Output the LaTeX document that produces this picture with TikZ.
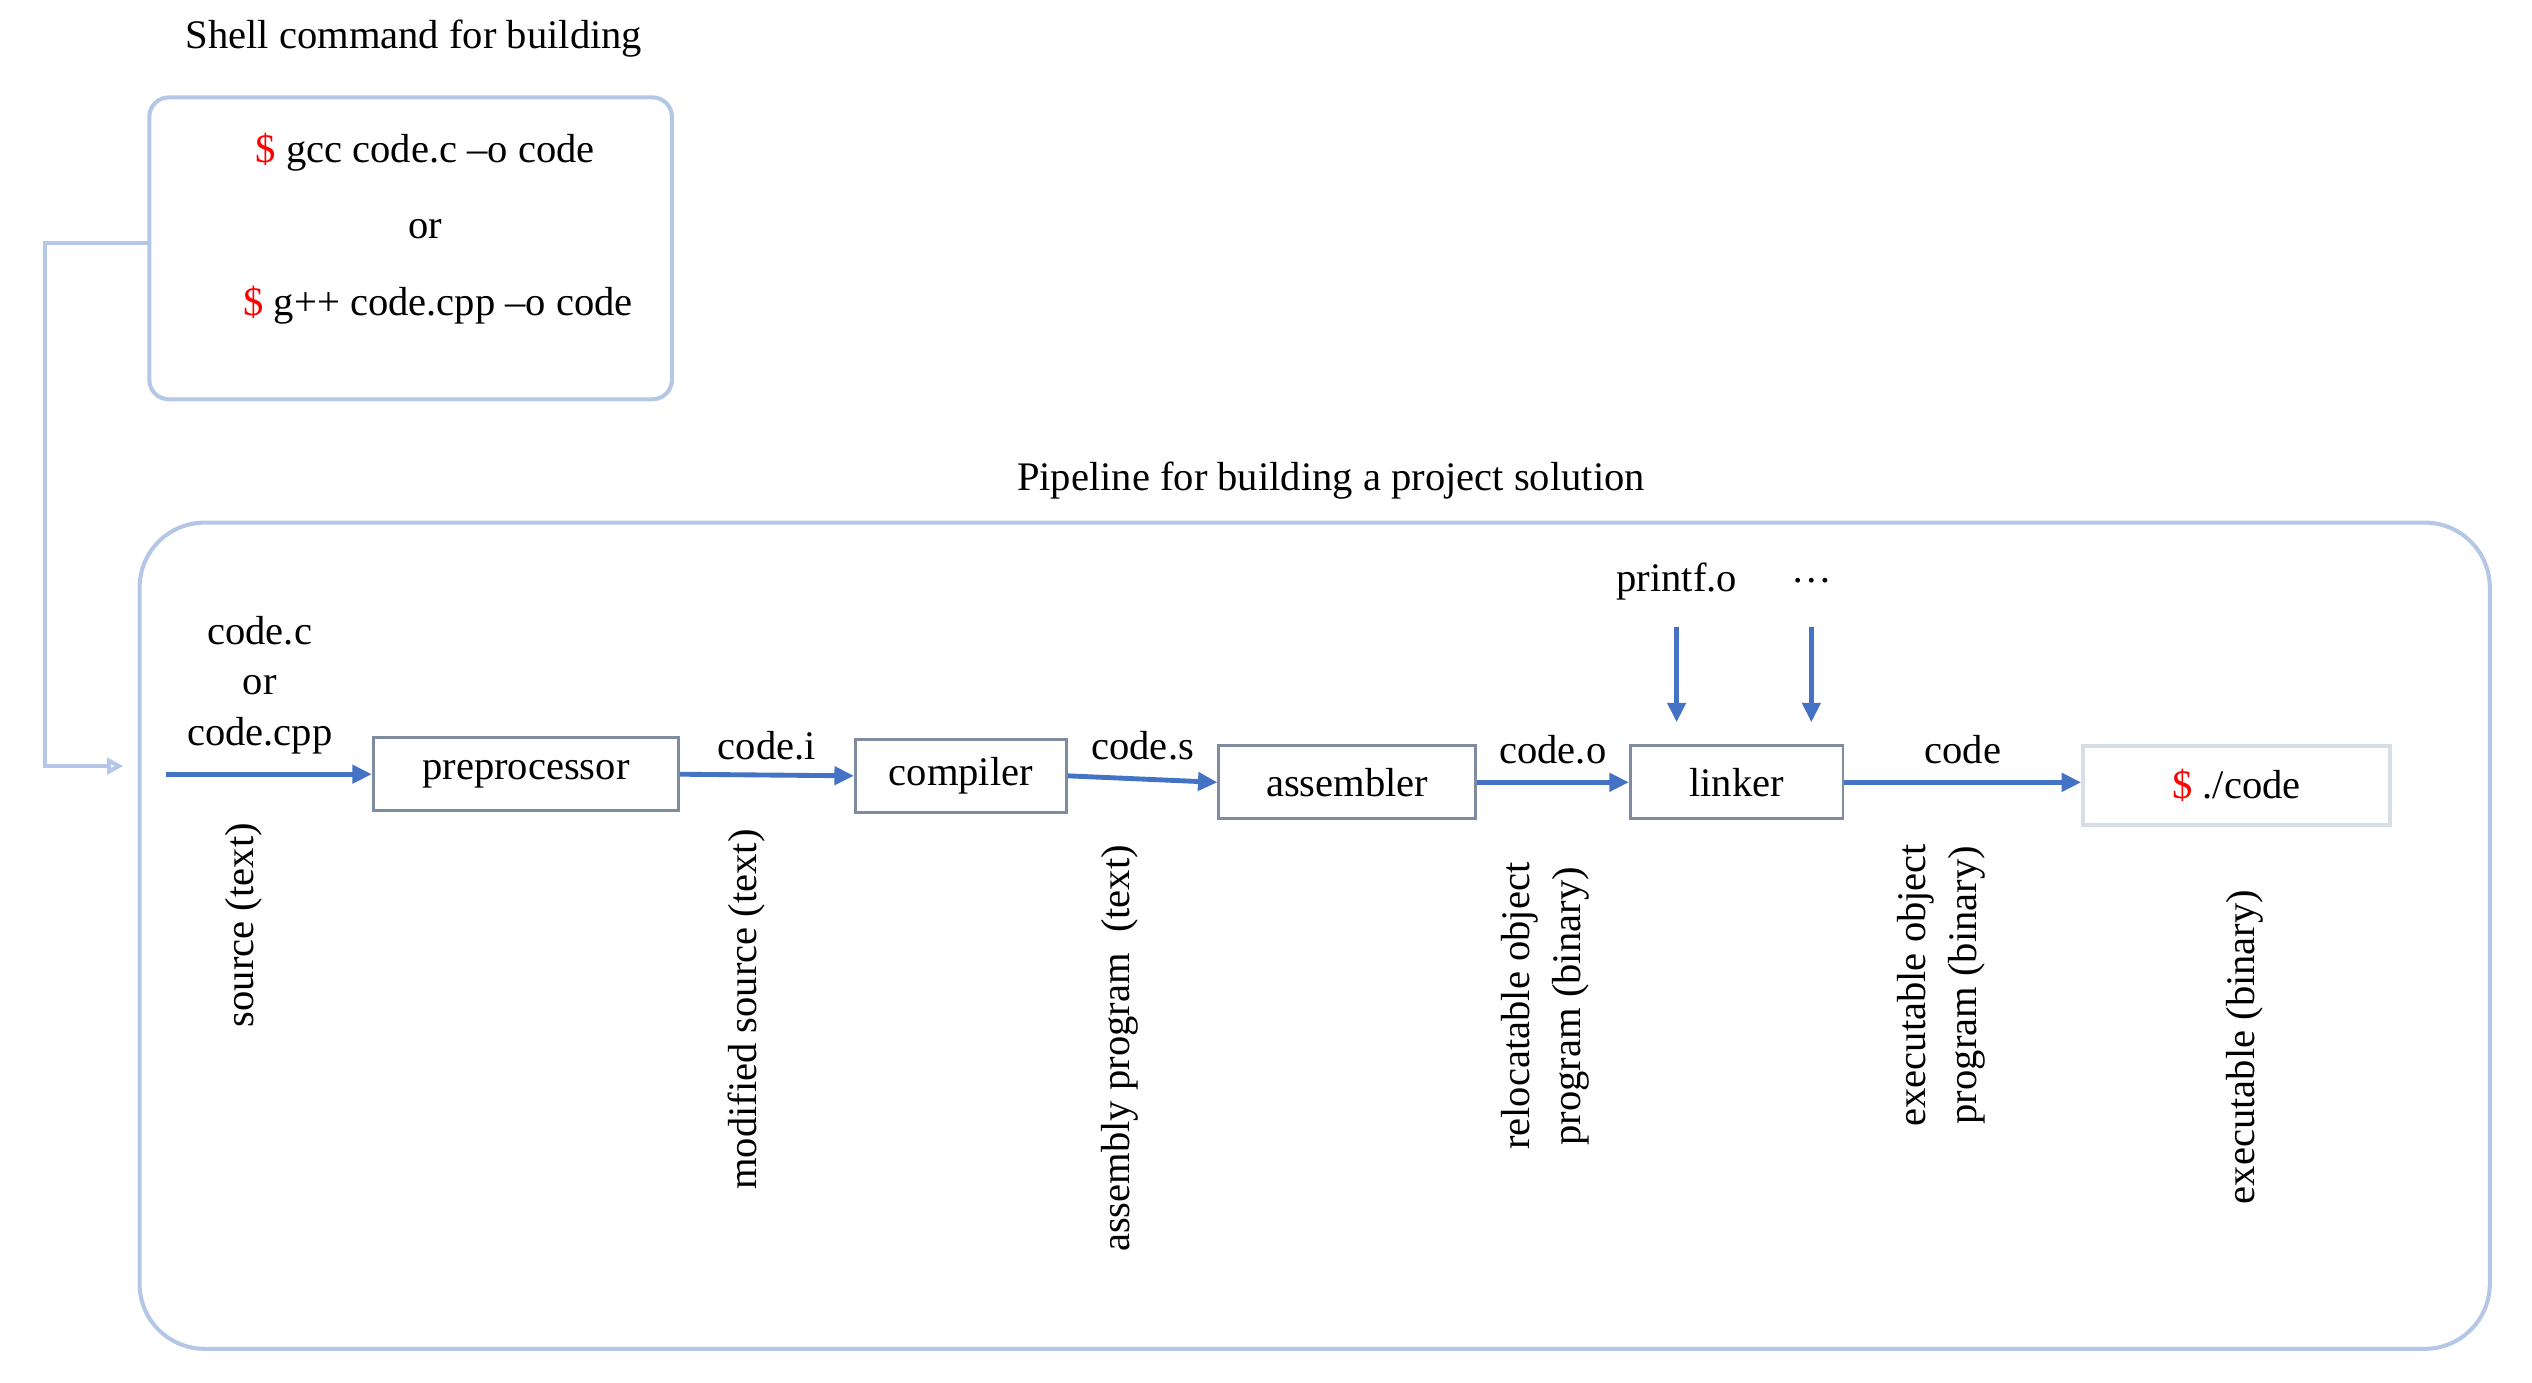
\documentclass[tikz,border=0pt]{standalone}
\usepackage{fontspec}
\setmainfont{Liberation Serif}
\usetikzlibrary{arrows.meta, positioning}
\definecolor{frameblue}{HTML}{B4C7E7}
\definecolor{flowblue}{HTML}{4472C4}
\definecolor{stagegray}{HTML}{7F8CA0}
\tikzset{
  every node/.style={font=\fontsize{25}{30}\selectfont, inner sep=0pt},
  frame/.style={draw=frameblue, line width=2.5pt, rounded corners=12pt}, % outer boxes
  stage/.style={draw=stagegray, line width=1.8pt, minimum height=45pt}, % pipeline stages
  flow/.style={-{Triangle[length=12pt,width=11pt]}, draw=flowblue, line width=3pt}, % pipeline arrows
  vlabel/.style={rotate=90, align=center, font=\fontsize{25}{31}\selectfont},
}
\newcommand{\prompt}{\textcolor{red}{\$}}
\begin{document}
\begin{tikzpicture}[x=1pt,y=-1pt]
  \useasboundingbox (0,0) rectangle (1560,851.5);
  % shell command part
  \node (shelltitle) at (255,24) {Shell command for building};
  \draw[frame] (92,60) rectangle (414,246);
  \node (gcc) at (262,94) {\prompt\ gcc code.c --o code};
  \node (or) at (262,141) {or};
  \node (gpp) at (270,188) {\prompt\ g++ code.cpp --o code};
  \coordinate (shellout) at (92,150);
  \coordinate (pipein) at (76,472);
  \draw[-{Triangle[open,length=10pt,width=10pt]}, draw=frameblue, line width=2.5pt]
    (shellout) -- (28,150) -- (28,472) -- (pipein);
  % pipeline part
  \node (pipetitle) at (820,296) {Pipeline for building a project solution};
  \draw[frame, rounded corners=40pt] (86,322) rectangle (1534,831);
  \node[stage, minimum width=188pt] (pre) at (324,477) {preprocessor};
  \node[stage, minimum width=130pt] (comp) at (592,478) {compiler};
  \node[stage, minimum width=158pt] (asm) at (830,482) {assembler};
  \node[stage, minimum width=131pt] (link) at (1070,482) {linker};
  \node[draw=frameblue!60!gray!40, line width=2.5pt, minimum width=189pt, minimum height=49pt] (exe) at (1378,484) {\prompt\ ./code};
  \coordinate (src) at (102,477);
  \node[align=center, font=\fontsize{25}{31}\selectfont] (srcname) at (160,422) {code.c\\or\\code.cpp};
  \draw[flow] (src) -- (pre.west);
  \draw[flow] (pre.east) -- (comp.west) node[midway, above=8pt] {code.i};
  \draw[flow] (comp.east) -- (asm.west) node[midway, above=10pt] {code.s};
  \draw[flow] (asm.east) -- (link.west) node[midway, above=10pt] {code.o};
  \draw[flow] (link.east) -- (link.east -| exe.west) node[midway, above=10pt] {code};
  % extra objects for the linker
  \node (printf) at (1033,358) {printf.o};
  \node (dots) at (1116,358) {\dots};
  \draw[flow] (1033,386) -- (1033,445);
  \draw[flow] (1116,386) -- (1116,445);
  % file kinds
  \node[vlabel] (k1) at (150,570) {source (text)};
  \node[vlabel] (k2) at (460,622) {modified source (text)};
  \node[vlabel] (k3) at (690,646) {assembly program~~(text)};
  \node[vlabel] (k4) at (952,620) {relocatable object\\program (binary)};
  \node[vlabel] (k5) at (1196,607) {executable object\\program (binary)};
  \node[vlabel] (k6) at (1383,645) {executable (binary)};
\end{tikzpicture}
\end{document}
